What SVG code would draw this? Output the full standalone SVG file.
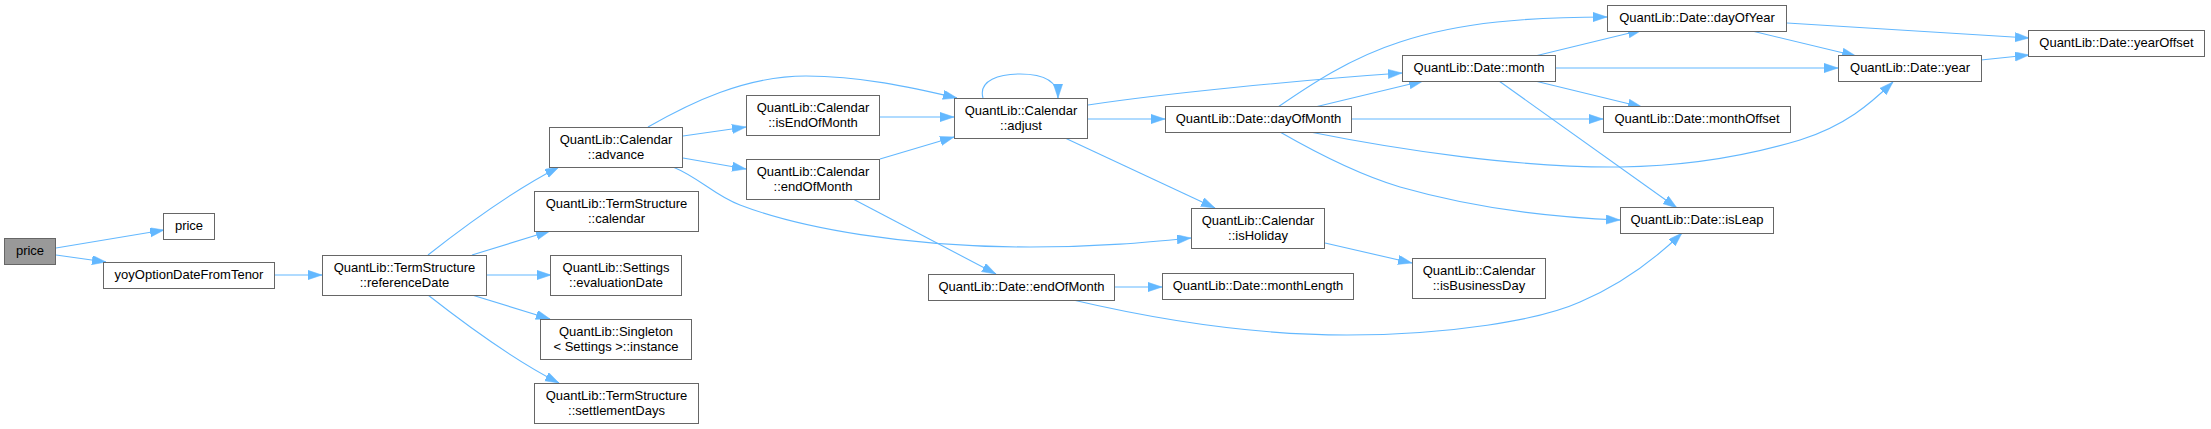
<svg xmlns="http://www.w3.org/2000/svg" width="2211" height="429" viewBox="0 0 2211 429">
<style>
.n rect{fill:#ffffff;stroke:#666666;stroke-width:1}
.n.cur rect{fill:#999999}
.n text{font-family:"Liberation Sans",Arial,sans-serif;font-size:13px;fill:#000000;text-anchor:middle}
.e path{fill:none;stroke:#63b8ff;stroke-width:1.1;marker-end:url(#ah)}
</style>
<defs>
<marker id="ah" markerUnits="userSpaceOnUse" markerWidth="14" markerHeight="10" refX="14" refY="4.65" orient="auto">
<path d="M0,0 L14,4.65 L0,9.3 z" fill="#63b8ff" stroke="#63b8ff" stroke-width="0.5"/>
</marker>
</defs>
<rect width="2211" height="429" fill="#ffffff"/>
<g id="connectors" class="e">
<path d="M56,248 L164,230"/>
<path d="M56,255 L106,262"/>
<path d="M275,275 L322,275"/>
<path d="M428,255 C456,233 510,192 559,167"/>
<path d="M472,255 L550,231"/>
<path d="M487,275 L551,275"/>
<path d="M472,295 L550,319"/>
<path d="M428,295 C456,317 510,358 559,383"/>
<path d="M683,136 L746,127"/>
<path d="M683,158 L746,169"/>
<path d="M648,127 C690,103 745,76 806,76 C860,76 910,87 957,98"/>
<path d="M673,167 C700,178 715,196 740,205 C800,228 905,247 1030,247 C1100,247 1150,242 1191,238"/>
<path d="M880,117 L954,117"/>
<path d="M880,159 L954,137"/>
<path d="M853,199 L996,274"/>
<path d="M983,98 C978,80 1000,74 1020,74 C1042,74 1058,80 1058,98"/>
<path d="M1088,119 L1165,119"/>
<path d="M1088,105 C1160,94 1300,80 1402,73"/>
<path d="M1065,138 L1215,208"/>
<path d="M1278,107 C1310,85 1350,58 1400,42 C1460,22 1530,17 1607,17"/>
<path d="M1315,107 L1423,81"/>
<path d="M1352,119 L1603,119"/>
<path d="M1310,132 C1400,150 1520,168 1620,167 C1700,166 1760,152 1800,140 C1845,126 1870,104 1893,82"/>
<path d="M1280,132 C1320,155 1360,175 1400,187 C1470,207 1540,217 1620,220"/>
<path d="M1535,56 L1642,30"/>
<path d="M1556,68 L1838,68"/>
<path d="M1535,81 L1642,107"/>
<path d="M1499,81 L1677,208"/>
<path d="M1787,23 L2029,38"/>
<path d="M1752,31 L1856,56"/>
<path d="M1981,60 L2029,55"/>
<path d="M1325,243 L1412,263"/>
<path d="M1115,287 L1162,287"/>
<path d="M1073,300 C1150,318 1250,335 1347,335 C1450,335 1540,320 1580,302 C1620,285 1652,262 1682,233"/>
</g>
<g id="node_price_main" class="n cur"><rect x="4.5" y="238.5" width="51" height="26"/><text x="30" y="255">price</text></g>
<g id="node_price" class="n"><rect x="163.5" y="213.5" width="51" height="26"/><text x="189" y="230">price</text></g>
<g id="node_yoy" class="n"><rect x="103.5" y="262.5" width="171" height="26"/><text x="189" y="279">yoyOptionDateFromTenor</text></g>
<g id="node_referenceDate" class="n"><rect x="322.5" y="255.5" width="164" height="40"/><text x="404.5" y="271.5">QuantLib::TermStructure</text><text x="404.5" y="286.5">::referenceDate</text></g>
<g id="node_advance" class="n"><rect x="549.5" y="127.5" width="133" height="40"/><text x="616" y="143.5">QuantLib::Calendar</text><text x="616" y="158.5">::advance</text></g>
<g id="node_tscalendar" class="n"><rect x="534.5" y="191.5" width="164" height="40"/><text x="616.5" y="207.5">QuantLib::TermStructure</text><text x="616.5" y="222.5">::calendar</text></g>
<g id="node_evaluationDate" class="n"><rect x="550.5" y="255.5" width="131" height="40"/><text x="616" y="271.5">QuantLib::Settings</text><text x="616" y="286.5">::evaluationDate</text></g>
<g id="node_singleton" class="n"><rect x="540.5" y="319.5" width="151" height="40"/><text x="616" y="335.5">QuantLib::Singleton</text><text x="616" y="350.5">&lt; Settings &gt;::instance</text></g>
<g id="node_settlementDays" class="n"><rect x="534.5" y="383.5" width="164" height="40"/><text x="616.5" y="399.5">QuantLib::TermStructure</text><text x="616.5" y="414.5">::settlementDays</text></g>
<g id="node_isEndOfMonth" class="n"><rect x="746.5" y="95.5" width="133" height="40"/><text x="813" y="111.5">QuantLib::Calendar</text><text x="813" y="126.5">::isEndOfMonth</text></g>
<g id="node_calEndOfMonth" class="n"><rect x="746.5" y="159.5" width="133" height="40"/><text x="813" y="175.5">QuantLib::Calendar</text><text x="813" y="190.5">::endOfMonth</text></g>
<g id="node_adjust" class="n"><rect x="954.5" y="98.5" width="133" height="40"/><text x="1021" y="114.5">QuantLib::Calendar</text><text x="1021" y="129.5">::adjust</text></g>
<g id="node_dayOfMonth" class="n"><rect x="1165.5" y="106.5" width="186" height="26"/><text x="1258.5" y="123">QuantLib::Date::dayOfMonth</text></g>
<g id="node_isHoliday" class="n"><rect x="1191.5" y="208.5" width="133" height="40"/><text x="1258" y="224.5">QuantLib::Calendar</text><text x="1258" y="239.5">::isHoliday</text></g>
<g id="node_dateEndOfMonth" class="n"><rect x="928.5" y="274.5" width="186" height="26"/><text x="1021.5" y="291">QuantLib::Date::endOfMonth</text></g>
<g id="node_monthLength" class="n"><rect x="1162.5" y="273.5" width="191" height="26"/><text x="1258" y="290">QuantLib::Date::monthLength</text></g>
<g id="node_month" class="n"><rect x="1402.5" y="55.5" width="153" height="26"/><text x="1479" y="72">QuantLib::Date::month</text></g>
<g id="node_isBusinessDay" class="n"><rect x="1412.5" y="258.5" width="133" height="40"/><text x="1479" y="274.5">QuantLib::Calendar</text><text x="1479" y="289.5">::isBusinessDay</text></g>
<g id="node_dayOfYear" class="n"><rect x="1607.5" y="5.5" width="179" height="26"/><text x="1697" y="22">QuantLib::Date::dayOfYear</text></g>
<g id="node_monthOffset" class="n"><rect x="1603.5" y="106.5" width="187" height="26"/><text x="1697" y="123">QuantLib::Date::monthOffset</text></g>
<g id="node_isLeap" class="n"><rect x="1620.5" y="207.5" width="153" height="26"/><text x="1697" y="224">QuantLib::Date::isLeap</text></g>
<g id="node_year" class="n"><rect x="1838.5" y="55.5" width="143" height="26"/><text x="1910" y="72">QuantLib::Date::year</text></g>
<g id="node_yearOffset" class="n"><rect x="2028.5" y="30.5" width="176" height="26"/><text x="2116.5" y="47">QuantLib::Date::yearOffset</text></g>
</svg>
